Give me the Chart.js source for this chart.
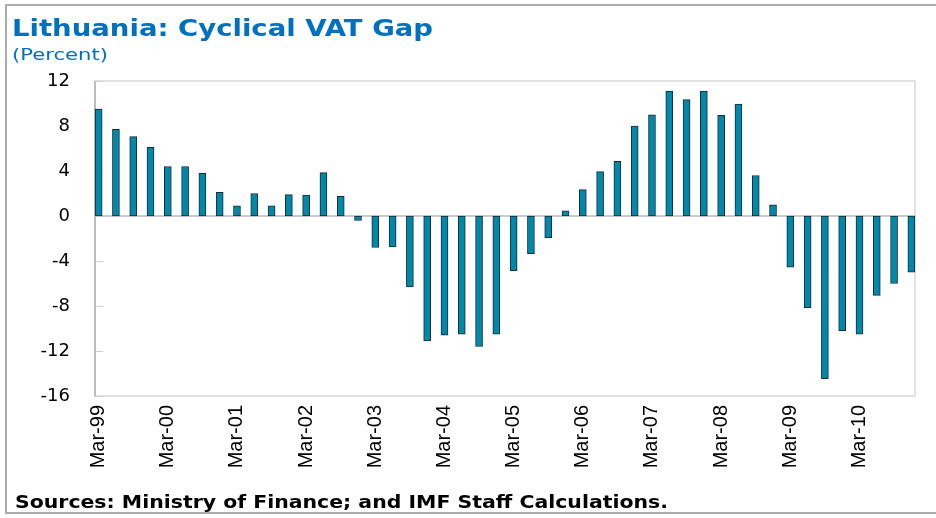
<!DOCTYPE html>
<html>
<head>
<meta charset="utf-8">
<script src="https://cdn.jsdelivr.net/npm/chart.js@4.4.1/dist/chart.umd.min.js"></script>
<style>
  html, body { margin: 0; padding: 0; background: #fff; }
  #wrap { position: relative; width: 936px; height: 518px; overflow: hidden; background: #fff; }
  #frame { position: absolute; left: 5px; top: 4px; width: 1000px; height: 510px; border: 2px solid #ababab; box-sizing: border-box; }
  #chart { position: absolute; left: 0; top: 0; }
  .txt { position: absolute; white-space: nowrap; transform-origin: 0 0; line-height: 1; }
  #title { left: 12px; top: 15px; font: bold 23px 'DejaVu Sans', sans-serif; color: #0070C0; }
  #unit { left: 12px; top: 46px; font: 15px 'DejaVu Sans', sans-serif; color: #0070C0; }
  #source { left: 15px; top: 492px; font: bold 17px 'DejaVu Sans', sans-serif; color: #000; }
</style>
</head>
<body>
<div id="wrap">
  <div id="frame"></div>
  <canvas id="chart" width="936" height="518"></canvas>
  <div class="txt" id="title" data-w="421">Lithuania: Cyclical VAT Gap</div>
  <div class="txt" id="unit" data-w="96">(Percent)</div>
  <div class="txt" id="source" data-w="653">Sources: Ministry of Finance; and IMF Staff Calculations.</div>
</div>
<script>
// ---- Data ----
const categories = [
  'Mar-99','Jun-99','Sep-99','Dec-99',
  'Mar-00','Jun-00','Sep-00','Dec-00',
  'Mar-01','Jun-01','Sep-01','Dec-01',
  'Mar-02','Jun-02','Sep-02','Dec-02',
  'Mar-03','Jun-03','Sep-03','Dec-03',
  'Mar-04','Jun-04','Sep-04','Dec-04',
  'Mar-05','Jun-05','Sep-05','Dec-05',
  'Mar-06','Jun-06','Sep-06','Dec-06',
  'Mar-07','Jun-07','Sep-07','Dec-07',
  'Mar-08','Jun-08','Sep-08','Dec-08',
  'Mar-09','Jun-09','Sep-09','Dec-09',
  'Mar-10','Jun-10','Sep-10','Dec-10'
];
const vatGap = [
  9.5, 7.7, 7.05, 6.1,
  4.4, 4.4, 3.8, 2.1,
  0.9, 2.0, 0.9, 1.9,
  1.85, 3.85, 1.75, -0.4,
  -2.8, -2.75, -6.3, -11.1,
  -10.6, -10.5, -11.6, -10.5,
  -4.85, -3.35, -1.95, 0.45,
  2.35, 3.95, 4.85, 8.0,
  9.0, 11.1, 10.35, 11.1,
  8.95, 9.95, 3.6, 1.0,
  -4.55, -8.15, -14.45, -10.2,
  -10.5, -7.05, -6.0, -5.0
];
const xTickLabels = ['Mar-99','Mar-00','Mar-01','Mar-02','Mar-03','Mar-04','Mar-05','Mar-06','Mar-07','Mar-08','Mar-09','Mar-10'];
const yTicks = [12, 8, 4, 0, -4, -8, -12, -16];

// ---- Styles ----
const BAR_FILL = '#0088AA';
const BAR_EDGE = '#1a2a30';
const BAR_W = 7;

// fit text widths
document.querySelectorAll('.txt').forEach(el => {
  const target = parseFloat(el.dataset.w);
  const w = el.getBoundingClientRect().width;
  el.style.transform = 'scaleX(' + (target / w) + ')';
});

const framePlugin = {
  id: 'framePlugin',
  beforeDatasetsDraw(chart) {
    const { ctx, scales: { x, y } } = chart;
    const left = Math.round(x.getPixelForValue(0) - BAR_W / 2);
    const right = Math.round(x.getPixelForValue(categories.length - 1) + BAR_W / 2);
    const top = y.getPixelForValue(yTicks[0]);
    const bottom = y.getPixelForValue(yTicks[yTicks.length - 1]);
    ctx.save();
    ctx.strokeStyle = '#d9d9d9';
    ctx.lineWidth = 1.5;
    ctx.strokeRect(left, top, right - left, bottom - top);
    // zero line
    const y0 = y.getPixelForValue(0);
    ctx.strokeStyle = '#b8b8b8';
    ctx.lineWidth = 1.5;
    ctx.beginPath(); ctx.moveTo(left, y0); ctx.lineTo(right, y0); ctx.stroke();
    // tick marks
    ctx.strokeStyle = '#cfcfcf';
    ctx.lineWidth = 1;
    yTicks.forEach(v => {
      const py = Math.round(y.getPixelForValue(v)) + 0.5;
      ctx.beginPath(); ctx.moveTo(left, py); ctx.lineTo(left + 8, py); ctx.stroke();
    });
    // left axis
    ctx.strokeStyle = '#bdbdbd';
    ctx.lineWidth = 2;
    ctx.beginPath(); ctx.moveTo(left, top); ctx.lineTo(left, bottom); ctx.stroke();
    ctx.restore();
  }
};

new Chart(document.getElementById('chart'), {
  type: 'bar',
  data: {
    labels: categories,
    datasets: [{
      data: vatGap,
      backgroundColor: BAR_FILL,
      borderColor: BAR_EDGE,
      borderWidth: 1,
      borderSkipped: false,
      barThickness: BAR_W,
      categoryPercentage: 1
    }]
  },
  options: {
    responsive: false,
    animation: false,
    devicePixelRatio: 1,
    layout: { padding: { left: 0, top: 81, right: 16, bottom: 0 } },
    plugins: { legend: { display: false }, title: { display: false }, tooltip: { enabled: false } },
    scales: {
      x: {
        grid: { display: false, drawTicks: false },
        border: { display: false },
        ticks: {
          autoSkip: false,
          minRotation: 90,
          maxRotation: 90,
          padding: 9,
          color: '#000',
          font: { family: "'Liberation Sans', Arial, sans-serif", size: 20 },
          callback: function(v, i) {
            const l = categories[i];
            return xTickLabels.includes(l) ? l : '';
          }
        },
        afterFit(s) { s.height = 122; s.paddingLeft = 0; s.paddingRight = 0; }
      },
      y: {
        min: -16,
        max: 12,
        grid: { display: false, drawTicks: false },
        border: { display: false },
        afterBuildTicks(s) { s.ticks = yTicks.map(v => ({ value: v })); },
        ticks: {
          padding: 20,
          color: '#000',
          font: { family: "'DejaVu Sans', sans-serif", size: 18 }
        },
        afterFit(s) { s.width = 90; s.paddingTop = 0; s.paddingBottom = 0; }
      }
    }
  },
  plugins: [framePlugin]
});
</script>
</body>
</html>
